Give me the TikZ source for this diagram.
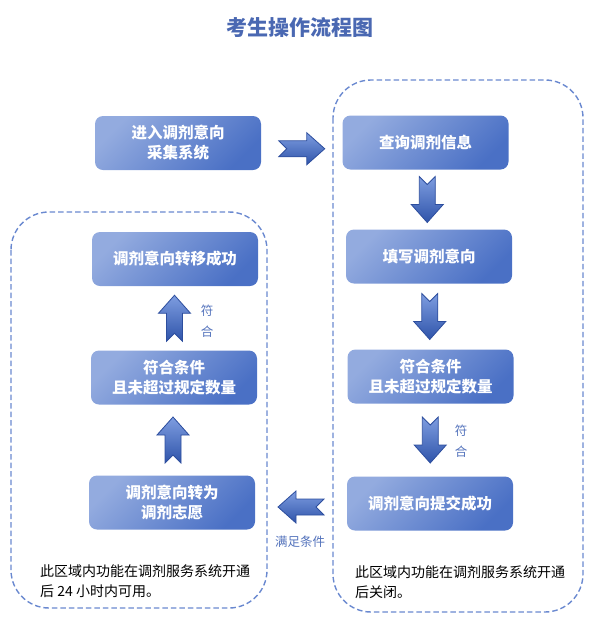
\documentclass[tikz,border=0pt]{standalone}
\usepackage{fontspec}
\setmainfont{Noto Sans CJK SC}
\usetikzlibrary{calc}

\definecolor{boxlight}{HTML}{93ABDF}
\definecolor{boxdark}{HTML}{4A70C5}
\definecolor{arrowlight}{HTML}{7E9DE0}
\definecolor{arrowdark}{HTML}{2F54AA}
\definecolor{arrowline}{HTML}{2D4E9E}
\definecolor{regionblue}{HTML}{6A89D0}
\definecolor{titleblue}{HTML}{4A68B2}
\definecolor{condblue}{HTML}{5473BC}

\begin{document}
\begin{tikzpicture}[x=1pt, y=-1pt,
  every box/.style={rounded corners=8pt, minimum width=166pt, minimum height=54pt,
    left color=boxlight, right color=boxdark, shading angle=45, text=white,
    align=center, inner sep=0pt, font=\fontsize{15.5}{20}\selectfont\bfseries},
  region/.style={draw=regionblue, line width=1.4pt, dash pattern=on 5.5pt off 3pt,
    rounded corners=38pt},
  note/.style={anchor=west, align=left, inner sep=0pt, font=\fontsize{14}{20}\selectfont},
  cond/.style={text=condblue, align=center, inner sep=0pt, font=\fontsize{12.5}{21}\selectfont},
  chevron/.pic={
    \draw[arrowline, line width=0.8pt, top color=arrowlight, bottom color=arrowdark]
      (-23,8) -- (5,8) -- (5,16) -- (23,0) -- (5,-16) -- (5,-8) -- (-23,-8) -- (-15,0) -- cycle;
  }]

\useasboundingbox (0,0) rectangle (597,630);

\node [text=titleblue, font=\fontsize{21}{24}\selectfont\bfseries] (title) at (300,28) {考生操作流程图};

% dashed regions
\draw [region] (11,212) rectangle (267,608);
\draw [region] (333,80) rectangle (583,612);

\node [every box] (entry) at (178,143) {进入调剂意向\\采集系统};

\foreach \n/\x/\y/\t in {1/425.5/142.5/查询调剂信息, 2/429/256.5/填写调剂意向,
    3/430.5/376.5/{符合条件\\且未超过规定数量}, 4/430/503.5/调剂意向提交成功}
  \node [every box] (right-\n) at (\x,\y) {\t};

\foreach \n/\x/\y/\t in {1/172/502.5/{调剂意向转为\\调剂志愿}, 2/174/377.5/{符合条件\\且未超过规定数量},
    3/175/259/调剂意向转移成功}
  \node [every box] (left-\n) at (\x,\y) {\t};

\foreach \a/\b in {1/2,2/3,3/4}
  \pic [rotate=-90] at ($(right-\a)!0.5!(right-\b)$) {chevron};

\foreach \a/\b in {1/2,2/3}
  \pic [rotate=90] at ($(left-\a)!0.5!(left-\b)$) {chevron};

\pic [yshift=-6pt] at ($(entry)!0.5!(right-1)$) {chevron};
\pic [rotate=180, yshift=4pt] at ($(right-4)!0.5!(left-1)$) {chevron};

\node [cond] (cond-right) at (461,441) {符\\合};
\node [cond] (cond-left) at (207,321) {符\\合};
\node [cond] (cond-mid) at (300,542) {满足条件};

\node [note] (note-left) at (40,581) {此区域内功能在调剂服务系统开通\\后 24 小时内可用。};
\node [note] (note-right) at (355,582) {此区域内功能在调剂服务系统开通\\后关闭。};

\end{tikzpicture}
\end{document}
